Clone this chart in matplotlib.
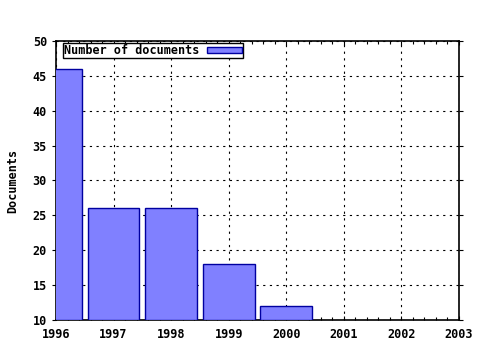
import matplotlib
matplotlib.use('Agg')
import matplotlib.pyplot as plt
from matplotlib.ticker import MultipleLocator

years = [1996, 1997, 1998, 1999, 2000]
docs = [46, 26, 26, 18, 12]
xticks = [1996, 1997, 1998, 1999, 2000, 2001, 2002, 2003]
yticks = [10, 15, 20, 25, 30, 35, 40, 45, 50]

plt.rcParams['font.family'] = 'DejaVu Sans Mono'
plt.rcParams['font.weight'] = 'bold'
plt.rcParams['font.size'] = 8.5

fig = plt.figure(figsize=(4.8, 3.5), dpi=100)
ax = fig.add_axes([56/480, 1-320/350, (459-56)/480, (320-41)/350])

base = 10
ax.bar(years, [d - base for d in docs], bottom=base, width=0.9,
       color='#8080ff', edgecolor='#0000a0', linewidth=1.0,
       label='Number of documents', zorder=3)

ax.set_xlim(1996, 2003)
ax.set_ylim(10, 50)
ax.set_xticks(xticks)
ax.set_yticks(yticks)
ax.xaxis.set_minor_locator(MultipleLocator(0.2))
ax.grid(True, color='black', linestyle=(0, (2, 4)), linewidth=0.8, zorder=1)
ax.set_axisbelow(True)

ax.tick_params(axis='x', which='both', direction='in', top=True, length=3, width=0.8, pad=6)
ax.tick_params(axis='x', which='minor', length=2)
ax.tick_params(axis='y', which='both', direction='out', right=True, length=3, width=0.8)
for s in ax.spines.values():
    s.set_linewidth(1.2)

ax.set_ylabel('Documents', fontweight='bold', labelpad=10)

leg = ax.legend(loc='upper left', bbox_to_anchor=(7/403, 1 - 2/279), borderaxespad=0,
                markerfirst=False, frameon=True, fancybox=False,
                borderpad=0.1, handlelength=3.0, handleheight=0.5, handletextpad=0.6,
                edgecolor='black', framealpha=1)
leg.get_frame().set_linewidth(1.0)

fig.savefig('out.png', dpi=100)
